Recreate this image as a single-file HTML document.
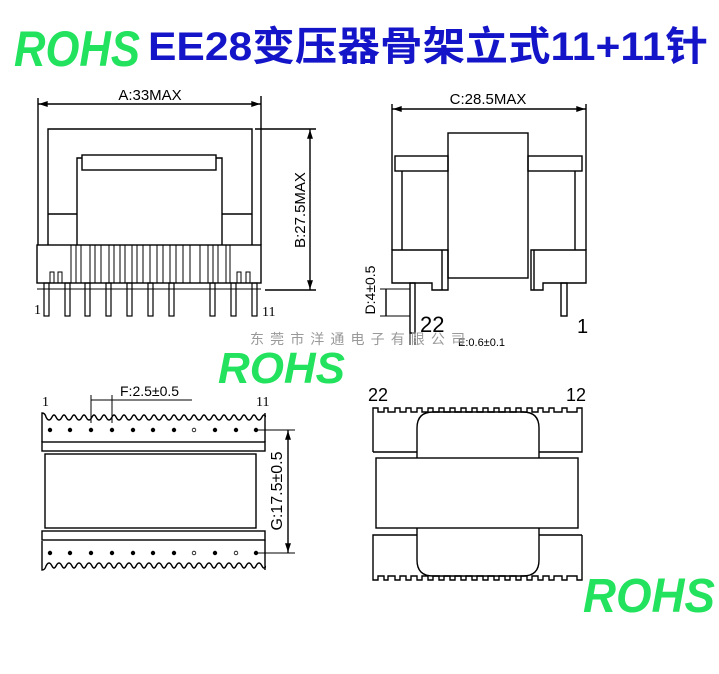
<!DOCTYPE html>
<html><head><meta charset="utf-8"><style>
html,body{margin:0;padding:0;background:#fff;width:719px;height:674px;overflow:hidden}
svg{display:block}
</style></head><body>
<svg width="719" height="674" viewBox="0 0 719 674" xmlns="http://www.w3.org/2000/svg" xmlns:xlink="http://www.w3.org/1999/xlink" font-family="Liberation Sans, sans-serif">
<defs><clipPath id="cl"><rect x="38" y="400" width="228" height="180"/></clipPath></defs>
<rect width="719" height="674" fill="#fff"/>
<!-- Title -->
<text x="14" y="66" font-size="50" font-style="italic" font-weight="bold" fill="#22e25e" textLength="126" lengthAdjust="spacingAndGlyphs">ROHS</text>
<text x="148" y="60" font-size="40" font-weight="bold" fill="#1414c8" font-family="Liberation Sans, Noto Sans CJK SC, sans-serif" textLength="560" lengthAdjust="spacingAndGlyphs">EE28变压器骨架立式11+11针</text>

<g stroke="#000" stroke-width="1.4" fill="none">
<!-- Front view -->
<line x1="38" y1="104" x2="261" y2="104"/>
<line x1="38" y1="98" x2="38" y2="245"/>
<line x1="261" y1="96" x2="261" y2="245"/>
<path d="M41 104 l6 -2 v4 z M258 104 l-6 -2 v4 z" fill="#000"/>
<path d="M48 245 V129 H252 V245"/>
<path d="M48 214 H77 V158 H82 M252 214 H222 V158 H216 M77 245 V214 M222 245 V214"/>
<rect x="82" y="155" width="134" height="15"/>
<rect x="37" y="245" width="224" height="38"/>
<line x1="37" y1="289" x2="261" y2="289" stroke-width="1"/>
<g stroke-width="1">
<path d="M71 245V283M76 245V283M81 245V283M90 245V283M95 245V283M101 245V283M109 245V283M114 245V283M120 245V283M125 245V283M132 245V283M137 245V283M143 245V283M150 245V283M157 245V283M163 245V283M170 245V283M176 245V283M183 245V283M190 245V283M200 245V283M208 245V283M213 245V283M218 245V283M226 245V283M230 245V283"/>
<path d="M50 283V272H54V283M58 283V272H62V283M237 283V272H241V283M246 283V272H250V283"/>
</g>
<g stroke-width="1.2">
<rect x="44" y="283" width="5" height="33"/><rect x="65" y="283" width="5" height="33"/>
<rect x="85" y="283" width="5" height="33"/><rect x="106" y="283" width="5" height="33"/>
<rect x="127" y="283" width="5" height="33"/><rect x="148" y="283" width="5" height="33"/>
<rect x="169" y="283" width="5" height="33"/><rect x="210" y="283" width="5" height="33"/>
<rect x="231" y="283" width="5" height="33"/><rect x="252" y="283" width="5" height="33"/>
</g>
<line x1="310" y1="129" x2="310" y2="290"/>
<line x1="255" y1="129" x2="316" y2="129"/>
<line x1="265" y1="290" x2="316" y2="290"/>
<path d="M310 132 l-2 6 h4 z M310 287 l-2 -6 h4 z" fill="#000"/>

<!-- Side view -->
<line x1="392" y1="109" x2="586" y2="109"/>
<line x1="392" y1="104" x2="392" y2="250"/>
<line x1="586" y1="104" x2="586" y2="250"/>
<path d="M395 109 l6 -2 v4 z M583 109 l-6 -2 v4 z" fill="#000"/>
<rect x="448" y="133" width="80" height="145"/>
<rect x="395" y="156" width="53" height="15"/>
<rect x="528" y="156" width="54" height="15"/>
<line x1="402" y1="171" x2="402" y2="250"/>
<line x1="575" y1="171" x2="575" y2="250"/>
<path d="M392 250 H448 V290 H432 V283 H392 Z M442 250 V290"/>
<path d="M586 250 H531 V290 H543 V283 H586 Z M534 250 V290"/>
<rect x="410" y="283" width="5" height="50"/>
<rect x="561" y="283" width="6" height="33"/>
<line x1="386" y1="289" x2="386" y2="316"/>
<line x1="380" y1="289" x2="410" y2="289" stroke-width="1"/>
<line x1="380" y1="316" x2="410" y2="316" stroke-width="1"/>
<line x1="410" y1="316" x2="410" y2="345" stroke-width="1"/>
<line x1="415" y1="316" x2="415" y2="345" stroke-width="1"/>

<!-- Bottom view left -->
<g clip-path="url(#cl)">
<path id="tw" d="M42 442 V413 q3 0 4 4 q3 6 6 0 q2 -4 4 0 q3 6 6 0 q2 -4 4 0 q3 6 6 0 q2 -4 4 0 q3 6 6 0 q2 -4 4 0 q3 6 6 0 q2 -4 4 0 q3 6 6 0 q2 -4 4 0 q3 6 6 0 q2 -4 4 0 q3 6 6 0 q2 -4 4 0 q3 6 6 0 q2 -4 4 0 q3 6 6 0 q2 -4 4 0 q3 6 6 0 q2 -4 4 0 q3 6 6 0 q2 -4 4 0 q3 6 6 0 q2 -4 4 0 q3 6 6 0 q2 -4 4 0 q3 6 6 0 q2 -4 4 0 q3 6 6 0 q2 -4 4 0 q3 6 6 0 q2 -4 4 0 q3 6 6 0 q2 -4 4 0 q3 6 6 0 q2 -4 4 0 q3 6 6 0 q2 -4 4 0 q3 6 6 0 q2 -4 4 0 q3 6 6 0 q2 -4 4 0"/>
</g>
<g clip-path="url(#cl)">
<use xlink:href="#tw" href="#tw" transform="translate(0,983) scale(1,-1)"/>
</g>
<line x1="265" y1="413" x2="265" y2="442"/>
<line x1="265" y1="540" x2="265" y2="570"/>
<rect x="42" y="442" width="223" height="9"/>
<rect x="45" y="454" width="211" height="74"/>
<rect x="42" y="531" width="223" height="9"/>
<line x1="91" y1="395" x2="91" y2="423" stroke-width="1"/>
<line x1="112" y1="395" x2="112" y2="423" stroke-width="1"/>
<line x1="91" y1="400" x2="192" y2="400" stroke-width="1"/>
<line x1="288" y1="430" x2="288" y2="553"/>
<line x1="258" y1="430" x2="295" y2="430" stroke-width="1"/>
<line x1="258" y1="553" x2="295" y2="553" stroke-width="1"/>
<path d="M288 433 l-2 6 h4 z M288 550 l-2 -6 h4 z" fill="#000"/>

<!-- Bottom view right -->
<path d="M373 452 V408 H378 V412 H384 V408 H388 V412 H395 V408 H400 V412 H406 V408 H411 V412 H417 V408 H422 V412 H428 V408 H433 V412 H439 V408 H444 V412 H450 V408 H455 V412 H461 V408 H466 V412 H472 V408 H477 V412 H483 V408 H488 V412 H494 V408 H499 V412 H505 V408 H510 V412 H516 V408 H521 V412 H527 V408 H532 V412 H538 V408 H543 V412 H549 V408 H554 V412 H562 V408 H567 V412 H577 V408 H582 V452 H539 M417 452 H373"/>
<path d="M417 458 V428 Q417 412 433 412 H523 Q539 412 539 428 V458"/>
<rect x="376" y="458" width="202" height="70"/>
<path d="M417 528 V560 Q417 576 433 576 H523 Q539 576 539 560 V528"/>
<path d="M539 535 H582"/>
<path d="M417 535 H373 V580 H378 V576 H384 V580 H388 V576 H395 V580 H400 V576 H406 V580 H411 V576 H417 V580 H422 V576 H428 V580 H433 V576 H439 V580 H444 V576 H450 V580 H455 V576 H461 V580 H466 V576 H472 V580 H477 V576 H483 V580 H488 V576 H494 V580 H499 V576 H505 V580 H510 V576 H516 V580 H521 V576 H527 V580 H532 V576 H538 V580 H543 V576 H549 V580 H554 V576 H562 V580 H567 V576 H577 V580 H582 V535"/>
</g>
<!-- dots -->
<g fill="#000">
<circle cx="50" cy="430" r="2.2"/><circle cx="70" cy="430" r="2.2"/><circle cx="91" cy="430" r="2.2"/><circle cx="112" cy="430" r="2.2"/><circle cx="133" cy="430" r="2.2"/><circle cx="153" cy="430" r="2.2"/><circle cx="174" cy="430" r="2.2"/><circle cx="215" cy="430" r="2.2"/><circle cx="236" cy="430" r="2.2"/><circle cx="256" cy="430" r="2.2"/>
<circle cx="50" cy="553" r="2.2"/><circle cx="70" cy="553" r="2.2"/><circle cx="91" cy="553" r="2.2"/><circle cx="112" cy="553" r="2.2"/><circle cx="133" cy="553" r="2.2"/><circle cx="153" cy="553" r="2.2"/><circle cx="174" cy="553" r="2.2"/><circle cx="215" cy="553" r="2.2"/><circle cx="256" cy="553" r="2.2"/>
</g>
<g fill="none" stroke="#000" stroke-width="0.8">
<circle cx="194" cy="430" r="1.8"/><circle cx="194" cy="553" r="1.8"/><circle cx="236" cy="553" r="1.8"/>
</g>
<!-- labels -->
<g fill="#000" font-size="15">
<text x="150" y="100" text-anchor="middle">A:33MAX</text>
<text x="488" y="104" text-anchor="middle">C:28.5MAX</text>
<text transform="translate(305,210) rotate(-90)" text-anchor="middle">B:27.5MAX</text>
<text x="34" y="314" font-family="Liberation Serif, serif" font-size="14">1</text>
<text x="262" y="316" font-family="Liberation Serif, serif" font-size="14">11</text>
<text transform="translate(375,290) rotate(-90)" text-anchor="middle" font-size="14">D:4±0.5</text>
<text x="420" y="332" font-size="22">22</text>
<text x="577" y="333" font-size="20">1</text>
<text x="458" y="346" font-size="11">E:0.6±0.1</text>
<text x="120" y="396" font-size="14">F:2.5±0.5</text>
<text x="42" y="406" font-family="Liberation Serif, serif" font-size="14">1</text>
<text x="256" y="406" font-family="Liberation Serif, serif" font-size="14">11</text>
<text transform="translate(282,491) rotate(-90)" text-anchor="middle" font-size="16">G:17.5±0.5</text>
<text x="368" y="401" font-size="18">22</text>
<text x="566" y="401" font-size="18">12</text>
</g>
<text x="250" y="344" font-size="14" fill="#999" font-family="Liberation Sans, Noto Sans CJK SC, sans-serif" textLength="215" lengthAdjust="spacing">东莞市洋通电子有限公司</text>
<text x="218" y="383" font-size="44" font-style="italic" font-weight="bold" fill="#22e25e" textLength="127" lengthAdjust="spacingAndGlyphs">ROHS</text>
<text x="583" y="612" font-size="48" font-style="italic" font-weight="bold" fill="#22e25e" textLength="132" lengthAdjust="spacingAndGlyphs">ROHS</text>
</svg>
</body></html>
